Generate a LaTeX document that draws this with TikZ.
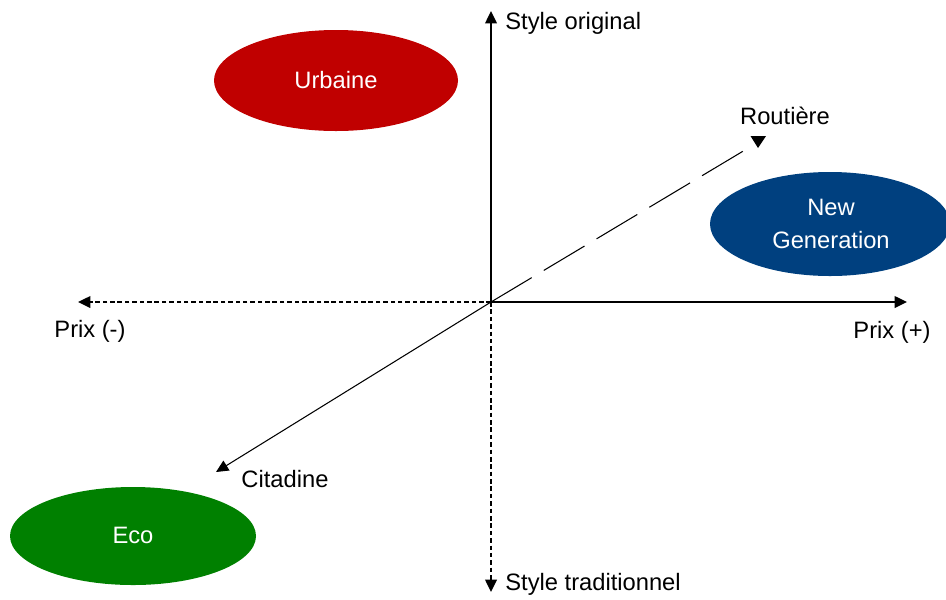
\documentclass[tikz,border=0pt]{standalone}
\usepackage{fontspec}
\setmainfont{Liberation Sans}
\usetikzlibrary{arrows.meta,shapes.geometric}
\definecolor{cred}{HTML}{C00000}
\definecolor{cblue}{HTML}{00407F}
\definecolor{cgreen}{HTML}{008000}
\tikzset{
  blob/.style={text=white, font=\fontsize{13.5}{17}\selectfont, align=center, inner sep=0pt},
  lbl/.style={font=\fontsize{13.5}{16}\selectfont, inner sep=0pt},
  axis/.style={line width=1.2pt, -{Triangle[length=7pt,width=6.5pt]}},
  daxis/.style={line width=1.2pt, dash pattern=on 2.6pt off 1.6pt, -{Triangle[length=7pt,width=6.5pt]}},
  thin/.style={line width=0.6pt},
}
\begin{document}
\begin{tikzpicture}[x=0.02cm,y=-0.02cm]
\useasboundingbox (0,0) rectangle (946,599);
\coordinate (O) at (491,302);
\coordinate (top) at (491,11);
\coordinate (bot) at (491,592);
\coordinate (left) at (78,302);
\coordinate (right) at (907,302);
\coordinate (cit) at (216,472);
\coordinate (rout) at (745,150);

\fill[cred] (336,80.5) ellipse [x radius=122, y radius=50.5];
\node[blob] (urb) at (336,80) {Urbaine};
\fill[cblue] (830,224) ellipse [x radius=120, y radius=52];
\node[blob] (ng) at (831,224) {New\\[2pt]Generation};
\fill[cgreen] (133,536) ellipse [x radius=123, y radius=49];
\node[blob] (eco) at (133,535) {Eco};

\draw[axis] (O) -- (top);
\draw[axis] (O) -- (right);
\draw[daxis] (O) -- (left);
\draw[daxis] (O) -- (bot);
\draw[thin, -{Triangle[length=7pt,width=6.5pt]}] (O) -- (cit);
\draw[thin, dash pattern=on 27pt off 8pt] (O) -- (rout);
\fill (750.5,136) -- (766,136) -- (758,148) -- cycle;

\node[lbl, anchor=west] (so) at (505,23) {Style original};
\node[lbl, anchor=west] (st) at (505,584) {Style traditionnel};
\node[lbl] (pm) at (90,331) {Prix (-)};
\node[lbl] (pp) at (892,332) {Prix (+)};
\node[lbl] (ct) at (285,479) {Citadine};
\node[lbl] (rt) at (785,116) {Routière};
\end{tikzpicture}
\end{document}
